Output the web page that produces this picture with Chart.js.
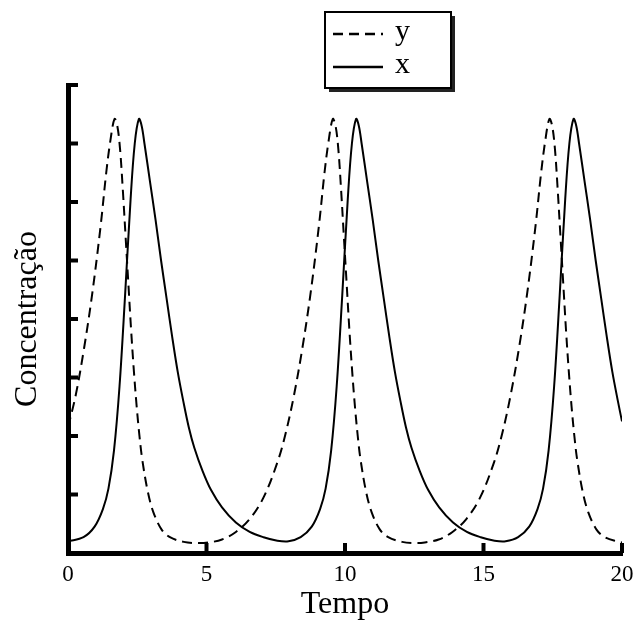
<!DOCTYPE html>
<html>
<head>
<meta charset="utf-8">
<script src="https://cdn.jsdelivr.net/npm/chart.js@4.4.1/dist/chart.umd.min.js"></script>
<style>
  body { margin: 0; background: #fff; }
  canvas { display: block; }
</style>
</head>
<body>
<canvas id="chart" width="633" height="626"></canvas>
<script>
// values (y axis in tick units, 0..8)
const tempoY = [0, 0.28, 0.58, 0.88, 1.18, 1.38, 1.53, 1.68, 1.78, 1.88, 1.98, 2.08, 2.18, 2.28, 2.38, 2.48, 2.58, 2.68,
    2.88, 3.08, 3.38, 3.68, 4.18, 4.68,
    5.06, 5.56, 6.06, 6.56, 7.06, 7.56, 7.86, 8.16, 8.46, 8.76, 9.06, 9.26, 9.41, 9.56, 9.66, 9.76, 9.86, 9.96, 10.06,
    10.16, 10.26, 10.36, 10.46, 10.56, 10.76, 10.96, 11.26, 11.56, 12.06, 12.56,
    12.88, 13.38, 13.88, 14.38, 14.88, 15.38, 15.68, 15.98, 16.28, 16.58, 16.88, 17.08, 17.23, 17.38, 17.48, 17.58, 17.68,
    17.78, 17.88, 17.98, 18.08, 18.18, 18.28, 18.38, 18.58, 18.78, 19.08, 19.38, 19.88, 20.0];
const concY = [2.15, 2.7, 3.5, 4.45, 5.6, 6.5, 7.05, 7.42, 7.3, 6.9, 6.2, 5.4, 4.6, 3.8, 3.1, 2.5, 2.0, 1.6,
    1.05, 0.7, 0.4, 0.27, 0.19, 0.17,
    0.18, 0.23, 0.36, 0.58, 0.95, 1.55, 2.05, 2.7, 3.5, 4.45, 5.6, 6.5, 7.05, 7.42, 7.3, 6.9, 6.2, 5.4, 4.6,
    3.8, 3.1, 2.5, 2.0, 1.6, 1.05, 0.7, 0.4, 0.27, 0.19, 0.17,
    0.18, 0.23, 0.36, 0.58, 0.95, 1.55, 2.05, 2.7, 3.5, 4.45, 5.6, 6.5, 7.05, 7.42, 7.3, 6.9, 6.2,
    5.4, 4.6, 3.8, 3.1, 2.5, 2.0, 1.6, 1.05, 0.7, 0.4, 0.27, 0.19, 0.18];

const tempoX = [0, 0.56, 0.96, 1.26, 1.46, 1.66, 1.86, 2.06, 2.26, 2.41, 2.56, 2.66, 2.76, 2.96, 3.16, 3.36, 3.56, 3.76,
    3.96, 4.16, 4.36, 4.56, 4.86, 5.16, 5.56, 6.06, 6.56, 7.06, 7.56, 7.96,
    8.4, 8.8, 9.1, 9.3, 9.5, 9.7, 9.9, 10.1, 10.25, 10.4, 10.5, 10.6, 10.8, 11.0, 11.2, 11.4, 11.6,
    11.8, 12.0, 12.2, 12.4, 12.7, 13.0, 13.4, 13.9, 14.4, 14.9, 15.4, 15.8,
    16.25, 16.65, 16.95, 17.15, 17.35, 17.55, 17.75, 17.95, 18.1, 18.25, 18.35, 18.45, 18.65, 18.85, 19.05, 19.25,
    19.45, 19.65, 19.85, 20.0];
const concX = [0.2, 0.27, 0.45, 0.75, 1.1, 1.75, 2.85, 4.4, 6.05, 7.0, 7.42, 7.3, 7.0, 6.35, 5.7, 5.0, 4.35, 3.7,
    3.1, 2.6, 2.15, 1.8, 1.4, 1.08, 0.78, 0.52, 0.36, 0.27, 0.21, 0.2,
    0.27, 0.45, 0.75, 1.1, 1.75, 2.85, 4.4, 6.05, 7.0, 7.42, 7.3, 7.0, 6.35, 5.7, 5.0, 4.35, 3.7,
    3.1, 2.6, 2.15, 1.8, 1.4, 1.08, 0.78, 0.52, 0.36, 0.27, 0.21, 0.2,
    0.27, 0.45, 0.75, 1.1, 1.75, 2.85, 4.4, 6.05, 7.0, 7.42, 7.3, 7.0, 6.35, 5.7, 5.0, 4.35,
    3.7, 3.1, 2.6, 2.25];

const xTicks = [0, 5, 10, 15, 20];
const yTicks = [1, 2, 3, 4, 5, 6, 7, 8];

const serif = "'Liberation Serif', 'Times New Roman', serif";

function points(ts, vs) {
    return ts.map((t, i) => ({ x: t, y: vs[i] }));
}

// ticks in the original point into the plot
const inwardTicks = {
    id: "inwardTicks",
    afterDatasetsDraw(chart) {
        const ctx = chart.ctx;
        const xs = chart.scales.x;
        const ys = chart.scales.y;
        const area = chart.chartArea;
        ctx.save();
        ctx.strokeStyle = "#000";
        ctx.lineWidth = 4;
        ctx.setLineDash([]);
        ctx.beginPath();
        xTicks.slice(1).forEach((v) => {
            const px = xs.getPixelForValue(v);
            ctx.moveTo(px, area.bottom);
            ctx.lineTo(px, area.bottom - 10);
        });
        yTicks.forEach((v) => {
            const py = ys.getPixelForValue(v);
            ctx.moveTo(area.left, py);
            ctx.lineTo(area.left + 10, py);
        });
        ctx.stroke();
        ctx.restore();
    }
};

// boxed legend with a drop shadow, drawn from the datasets
const boxLegend = {
    id: "boxLegend",
    afterDraw(chart) {
        const ctx = chart.ctx;
        const bx = 325, by = 12, bw = 126, bh = 76;
        ctx.save();
        ctx.fillStyle = "#222";
        ctx.fillRect(bx + 4, by + 4, bw, bh);
        ctx.fillStyle = "#fff";
        ctx.fillRect(bx, by, bw, bh);
        ctx.strokeStyle = "#000";
        ctx.lineWidth = 2;
        ctx.strokeRect(bx, by, bw, bh);

        ctx.font = "30px " + serif;
        ctx.textBaseline = "middle";
        chart.data.datasets.forEach((ds, i) => {
            const ly = by + 22 + i * 33;
            ctx.beginPath();
            ctx.lineWidth = 2.5;
            ctx.setLineDash(ds.borderDash || []);
            ctx.moveTo(bx + 8, ly);
            ctx.lineTo(bx + 58, ly);
            ctx.stroke();
            ctx.setLineDash([]);
            ctx.fillStyle = "#000";
            ctx.fillText(ds.label, bx + 70, ly - 2);
        });
        ctx.restore();
    }
};

new Chart(document.getElementById("chart"), {
    type: "scatter",
    data: {
        datasets: [
            {
                label: "y",
                data: points(tempoY, concY),
                showLine: true,
                borderColor: "#000",
                borderWidth: 2,
                borderDash: [10, 6],
                pointRadius: 0,
                tension: 0.35
            },
            {
                label: "x",
                data: points(tempoX, concX),
                showLine: true,
                borderColor: "#000",
                borderWidth: 2,
                pointRadius: 0,
                tension: 0.35
            }
        ]
    },
    options: {
        responsive: false,
        animation: false,
        layout: { padding: { top: 85, right: 11, left: 0, bottom: 0 } },
        plugins: {
            legend: { display: false },
            tooltip: { enabled: false }
        },
        scales: {
            x: {
                type: "linear",
                min: 0,
                max: 20,
                afterFit: (s) => { s.height = 73; s.paddingLeft = 0; s.paddingRight = 0; },
                afterBuildTicks: (s) => { s.ticks = xTicks.map((v) => ({ value: v })); },
                grid: { display: true, drawOnChartArea: false, drawTicks: false },
                border: { display: true, color: "#000", width: 5 },
                ticks: { color: "#000", padding: 8, maxRotation: 0, font: { family: serif, size: 23 } },
                title: {
                    display: true,
                    text: "Tempo",
                    color: "#000",
                    font: { family: serif, size: 32 },
                    padding: { top: 0, bottom: 2 }
                }
            },
            y: {
                min: 0,
                max: 8,
                afterFit: (s) => { s.width = 68; s.paddingTop = 0; s.paddingBottom = 0; },
                grid: { display: true, drawOnChartArea: false, drawTicks: false },
                border: { display: true, color: "#000", width: 5 },
                ticks: { display: false, stepSize: 1 },
                title: {
                    display: true,
                    text: "Concentração",
                    color: "#000",
                    font: { family: serif, size: 32 },
                    padding: { top: 8, bottom: 0 }
                }
            }
        }
    },
    plugins: [inwardTicks, boxLegend]
});
</script>
</body>
</html>
